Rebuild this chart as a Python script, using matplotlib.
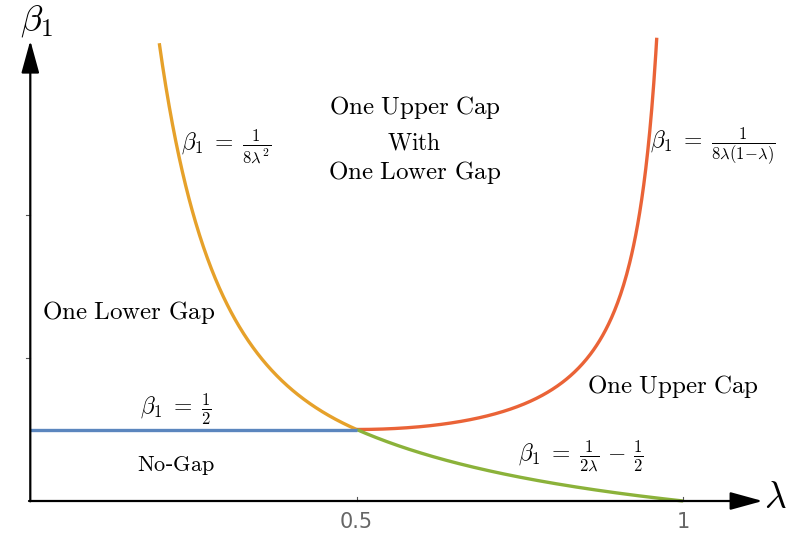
import numpy as np
import matplotlib
matplotlib.use("Agg")
import matplotlib.pyplot as plt

plt.rcParams['mathtext.fontset'] = 'cm'

# curve ranges (lambda)
lam_orange = (0.1976, 0.5)
lam_red = (0.5, 0.9598)
lam_green = (0.5, 1.0)
lam_blue = (0.0, 0.5)
beta_blue = 0.5

x_ticks = [0.5, 1.0]
x_tick_labels = ["0.5", "1"]
y_ticks = [1, 2]

c_orange = "#E6A12A"
c_red = "#EA6337"
c_green = "#8BB23A"
c_blue = "#5B86BE"

fig = plt.figure(figsize=(7.9, 5.34), dpi=100)
ax = fig.add_axes([0, 0, 1, 1])
# pixel mapping: x=0 at 30px, 652.7 px/unit; y=0 at 501px, 143 px/unit
ax.set_xlim(-30.3 / 652.7, (790 - 30.3) / 652.7)
ax.set_ylim(-(534 - 501) / 143, 501 / 143)
ax.axis("off")

lw = 2.4
l = np.linspace(*lam_orange, 300)
ax.plot(l, 1 / (8 * l ** 2), color=c_orange, lw=lw, solid_capstyle="butt", zorder=3)
l = np.linspace(*lam_red, 300)
ax.plot(l, 1 / (8 * l * (1 - l)), color=c_red, lw=lw, solid_capstyle="butt", zorder=3)
l = np.linspace(*lam_green, 300)
ax.plot(l, 1 / (2 * l) - 0.5, color=c_green, lw=lw, solid_capstyle="butt", zorder=3)
ax.plot(lam_blue, [beta_blue, beta_blue], color=c_blue, lw=lw, solid_capstyle="butt", zorder=3)

# axes with arrows
ax.annotate("", xy=(1.122, 0), xytext=(-0.002, 0),
            arrowprops=dict(arrowstyle="-|>,head_length=2.0,head_width=0.55",
                            color="black", lw=1.6, shrinkA=0, shrinkB=0))
ax.annotate("", xy=(0, 3.22), xytext=(0, -0.002),
            arrowprops=dict(arrowstyle="-|>,head_length=2.0,head_width=0.55",
                            color="black", lw=1.6, shrinkA=0, shrinkB=0))

for xt, lab in zip(x_ticks, x_tick_labels):
    ax.plot([xt, xt], [0, 0.03], color="#555555", lw=0.8)
    ax.text(xt, -0.08, lab, ha="center", va="top", fontsize=15, color="#666666")
for yt in y_ticks:
    ax.plot([-0.006, 0], [yt, yt], color="#555555", lw=0.8)

ax.text(1.142, 0.02, r"$\lambda$", fontsize=27, ha="center", va="center")
ax.text(0.01, 3.355, r"$\beta_1$", fontsize=26, ha="center", va="center")

ts = 18
ax.text(0.589, 2.75, r"$\mathrm{One\ Upper\ Cap}$", fontsize=ts, ha="center", va="center")
ax.text(0.589, 2.51, r"$\mathrm{With}$", fontsize=ts - 1, ha="center", va="center")
ax.text(0.589, 2.30, r"$\mathrm{One\ Lower\ Gap}$", fontsize=ts, ha="center", va="center")
ax.text(0.150, 1.32, r"$\mathrm{One\ Lower\ Gap}$", fontsize=ts, ha="center", va="center")
ax.text(0.985, 0.80, r"$\mathrm{One\ Upper\ Cap}$", fontsize=ts, ha="center", va="center")
ax.text(0.223, 0.245, r"$\mathrm{No}$-$\mathrm{Gap}$", fontsize=16, ha="center", va="center")

fs = 17
ax.text(0.223, 0.64, r"$\beta_1\;=\;\frac{1}{2}$", fontsize=fs, ha="center", va="center")
ax.text(0.30, 2.48, r"$\beta_1\;=\;\frac{1}{8\lambda^2}$", fontsize=fs, ha="center", va="center")
ax.text(1.045, 2.48, r"$\beta_1\;=\;\frac{1}{8\lambda(1\!-\!\lambda)}$", fontsize=fs, ha="center", va="center")
ax.text(0.843, 0.31, r"$\beta_1\;=\;\frac{1}{2\lambda}\,-\,\frac{1}{2}$", fontsize=fs, ha="center", va="center")

fig.savefig("out.png", dpi=100, facecolor="white")
